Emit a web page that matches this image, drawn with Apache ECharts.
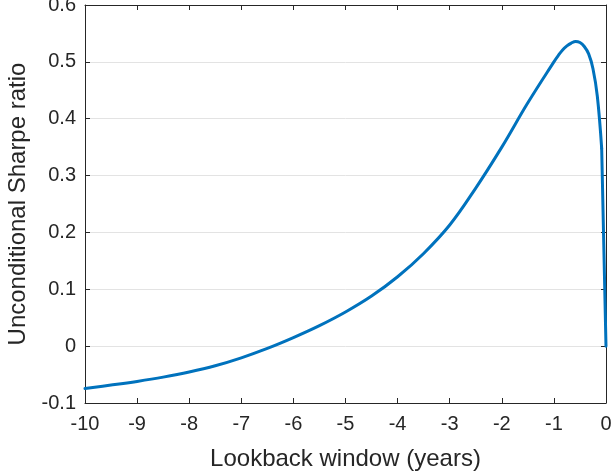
<!DOCTYPE html>
<html>
<head>
<meta charset="utf-8">
<script src="https://cdn.jsdelivr.net/npm/echarts@6/dist/echarts.min.js"></script>
<style>
html,body{margin:0;padding:0;background:#fff;}
#chart{width:611px;height:475px;}
</style>
</head>
<body>
<div id="chart"></div>
<script>
// Lookback window (years)
const lookback = [-10, -9.5, -9, -8.5, -8, -7.5, -7, -6.5, -6, -5.5, -5, -4.5, -4, -3.5, -3, -2.5, -2, -1.5, -1, -0.917, -0.833, -0.75, -0.667, -0.583, -0.5, -0.417, -0.333, -0.25, -0.167, -0.083, 0];
// Unconditional Sharpe ratio
const sharpe = [-0.0745, -0.0685, -0.062, -0.0545, -0.0455, -0.0345, -0.0205, -0.004, 0.015, 0.036, 0.060, 0.088, 0.122, 0.163, 0.213, 0.278, 0.350, 0.428, 0.500, 0.511, 0.521, 0.528, 0.533, 0.536, 0.534, 0.527, 0.514, 0.488, 0.440, 0.348, 0.000];
const xTicks = {min: -10, max: 0, step: 1};
const yTicks = {min: -0.1, max: 0.6, step: 0.1};

const axisColor = '#262626';
const fontFamily = 'Liberation Sans, Arial, Helvetica, sans-serif';
const chart = echarts.init(document.getElementById('chart'), null, {renderer: 'canvas'});
const fmtY = v => { const r = parseFloat(v.toFixed(1)); return r === 0 ? '0' : String(r); };
const data = lookback.map((x, i) => [x, sharpe[i]]);
const n = data.length;
const bodyData = data.slice(0, n - 1);   // smooth body of the curve
const tailData = data.slice(n - 2);      // final straight segment to 0

const baseX = {
  type: 'value', min: xTicks.min, max: xTicks.max, interval: xTicks.step,
  axisLine: {show: true, onZero: false, lineStyle: {color: axisColor, width: 1}},
  axisTick: {show: true, inside: true, length: 5, lineStyle: {color: axisColor}},
  splitLine: {show: false}
};
const baseY = {
  type: 'value', min: yTicks.min, max: yTicks.max, interval: yTicks.step,
  axisLine: {show: true, onZero: false, lineStyle: {color: axisColor, width: 1}},
  axisTick: {show: true, inside: true, length: 5, lineStyle: {color: axisColor}}
};

chart.setOption({
  animation: false,
  backgroundColor: '#ffffff',
  grid: {left: 85, right: 5, top: 5, bottom: 72, containLabel: false, outerBoundsMode: 'none'},
  xAxis: [
    Object.assign({}, baseX, {
      position: 'bottom',
      name: 'Lookback window (years)', nameLocation: 'middle', nameGap: 44,
      nameTextStyle: {color: axisColor, fontSize: 24, fontFamily},
      axisLabel: {color: axisColor, fontSize: 20, fontFamily, margin: 11}
    }),
    Object.assign({}, baseX, {position: 'top', axisLabel: {show: false}})
  ],
  yAxis: [
    Object.assign({}, baseY, {
      position: 'left',
      name: 'Unconditional Sharpe ratio', nameLocation: 'middle', nameGap: 52,
      nameTextStyle: {color: axisColor, fontSize: 24, fontFamily},
      axisLabel: {color: axisColor, fontSize: 20, fontFamily, margin: 9, formatter: fmtY},
      splitLine: {show: true, lineStyle: {color: '#e3e3e3', width: 1}}
    }),
    Object.assign({}, baseY, {position: 'right', axisLabel: {show: false}, splitLine: {show: false}})
  ],
  series: [{
    type: 'line', xAxisIndex: 0, yAxisIndex: 0,
    data: bodyData, showSymbol: false, smooth: 0.4,
    lineStyle: {color: '#0072BD', width: 3, cap: 'round', join: 'round'}
  }, {
    type: 'line', xAxisIndex: 0, yAxisIndex: 0,
    data: tailData, showSymbol: false, smooth: false,
    lineStyle: {color: '#0072BD', width: 3, cap: 'round', join: 'round'}
  }]
});
</script>
</body>
</html>
